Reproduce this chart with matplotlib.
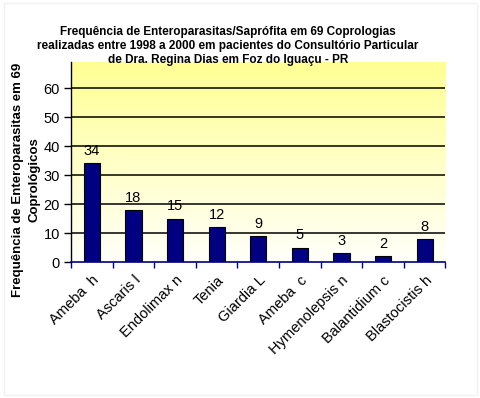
import numpy as np
import matplotlib
matplotlib.use("Agg")
import matplotlib.pyplot as plt
import matplotlib.transforms as mtransforms
from matplotlib.colors import LinearSegmentedColormap

plt.rcParams['font.family'] = ['Liberation Sans', 'DejaVu Sans']

# Chart data
categories = ["Ameba  h", "Ascaris l", "Endolimax n", "Tenia", "Giardia L",
              "Ameba  c", "Hymenolepsis n", "Balantidium c", "Blastocistis h"]
counts = [34, 18, 15, 12, 9, 5, 3, 2, 8]
yticks = [0, 10, 20, 30, 40, 50, 60]

title = ("Frequência de Enteroparasitas/Saprófita em 69 Coprologias\n"
         "realizadas entre 1998 a 2000 em pacientes do Consultório Particular\n"
         "de Dra. Regina Dias em Foz do Iguaçu - PR")
ylabel = "Frequência de Enteroparasitas em 69\nCoprológicos"

W, H = 481, 398
fig = plt.figure(figsize=(W / 100, H / 100), dpi=100, facecolor="white")
fig.patches.append(plt.Rectangle((0.008, 0.008), 0.984, 0.984, transform=fig.transFigure,
                                 fill=False, edgecolor="#f2f2f2", lw=1))

ax = fig.add_axes([71 / W, 1 - 262 / H, (445.5 - 71) / W, (262 - 62) / H])
ymax = 69
x = np.arange(len(categories))

# yellow gradient background (light at bottom, yellow at top)
grad = np.linspace(0, 1, 256).reshape(-1, 1)
cmap = LinearSegmentedColormap.from_list("bg", [(1, 1, 0.98), (1, 1, 0.58)])
ax.imshow(grad, aspect="auto", cmap=cmap, origin="lower",
          extent=[-0.5, len(categories) - 0.5, 0, ymax], zorder=0)

for t in yticks[1:]:
    ax.axhline(t, color="black", lw=1.1, zorder=1)

ax.bar(x, counts, width=0.39, color="#000080", edgecolor="black", lw=0.8, zorder=2)
for xi, v in zip(x, counts):
    ax.text(xi, v + 1.8, str(v), ha="center", va="bottom", fontsize=10.5, zorder=3)

ax.set_xlim(-0.5, len(categories) - 0.5)
ax.set_ylim(0, ymax)
ax.set_yticks(yticks)
ax.set_yticklabels([str(t) for t in yticks], fontsize=10.5)
ax.tick_params(axis="y", direction="out", length=5, width=1, pad=3)

# x ticks sit at the category boundaries, labels at the centres
ax.set_xticks(np.arange(len(categories) + 1) - 0.5)
ax.set_xticklabels([])
ax.set_xticks(x, minor=True)
labels = ax.set_xticklabels(categories, minor=True, rotation=45, ha="right",
                            rotation_mode="anchor", fontsize=10.5)
shift = mtransforms.ScaledTranslation(-4 / 100, 0, fig.dpi_scale_trans)
for lab in labels:
    lab.set_transform(lab.get_transform() + shift)
ax.tick_params(axis="x", which="major", direction="out", length=4, width=1, color="#000080")
ax.tick_params(axis="x", which="minor", length=0, pad=8)

for s in ["top", "right"]:
    ax.spines[s].set_visible(False)
ax.spines["left"].set_linewidth(1)
ax.spines["bottom"].set_color("#000080")
ax.spines["bottom"].set_linewidth(1.2)

fig.text(228 / W, 1 - 46 / H, title, ha="center", va="center", fontsize=8.5,
         fontweight="bold", linespacing=1.25)
fig.text(26 / W, 1 - 180 / H, ylabel, ha="center", va="center", rotation=90,
         fontsize=9.5, fontweight="bold", linespacing=1.5)

fig.savefig("out.png", dpi=100)
